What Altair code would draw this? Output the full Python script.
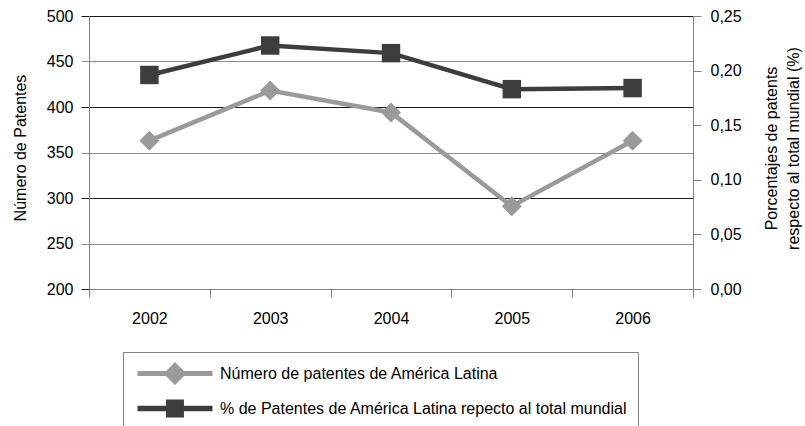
import altair as alt
import pandas as pd

# Años, patentes y participación mundial de América Latina
anios = ["2002", "2003", "2004", "2005", "2006"]
patentes = [363, 418, 394, 291, 363]
porcentaje = [0.196, 0.223, 0.216, 0.183, 0.184]
series = [
    "Número de patentes de América Latina",
    "% de Patentes de América Latina repecto al total mundial",
]
ticks_izq = [200, 250, 300, 350, 400, 450, 500]
ticks_der = [0.0, 0.05, 0.10, 0.15, 0.20, 0.25]

GRIS = "#9a9a9a"
OSCURO = "#3d3d3d"
EJE = "#808080"
FUENTE = "Liberation Sans"

# Símbolos de leyenda: trazo horizontal con el marcador al centro
PATH_ROMBO = "M-3.26,-0.22H3.26V0.22H-3.26Z M0,-1L1,0L0,1L-1,0Z"
PATH_CUADRADO = "M-3.26,-0.24H3.26V0.24H-3.26Z M-0.78,-0.78H0.78V0.78H-0.78Z"

df = pd.DataFrame({"anio": anios, "patentes": patentes, "porcentaje": porcentaje})
df_ley = pd.DataFrame({"serie": series})

x = alt.X(
    "anio:O",
    title=None,
    sort=anios,
    bandPosition=0.5,
    scale=alt.Scale(type="band", paddingInner=0, paddingOuter=0),
    axis=alt.Axis(
        tickBand="extent", tickSize=8, labelPadding=13, labelAngle=0,
        labelFontSize=16, labelFont=FUENTE, labelColor="black",
        domainColor=EJE, tickColor=EJE, grid=False,
    ),
)

color_grid = {
    "condition": {"test": "datum.value % 100 === 0", "value": "#1a1a1a"},
    "value": "#8c8c8c",
}

y_izq = alt.Y(
    "patentes:Q",
    scale=alt.Scale(domain=[200, 500], nice=False, zero=False),
    axis=alt.Axis(
        orient="left", values=ticks_izq,
        title="Número de Patentes", titleX=-64, titleY=131.5, titleAngle=270,
        titleAlign="center", titleBaseline="alphabetic", titleFontSize=16,
        titleFontWeight="normal", titleFont=FUENTE, titleColor="black",
        labelFontSize=16, labelFont=FUENTE, labelColor="black", labelPadding=8,
        tickSize=8, grid=True, gridColor=color_grid, tickColor=color_grid,
        gridWidth=1, domainColor=EJE,
    ),
)

y_der = alt.Y(
    "porcentaje:Q",
    scale=alt.Scale(domain=[0, 0.25], nice=False),
    axis=alt.Axis(
        orient="right", values=ticks_der,
        labelExpr="replace(format(datum.value, '.2f'), '.', ',')",
        title=["Porcentajes de patents", "respecto al total mundial (%)"],
        titleX=83.5, titleY=132, titleAngle=270, titleAlign="center",
        titleBaseline="alphabetic", titleLineHeight=22, titleFontSize=16,
        titleFontWeight="normal", titleFont=FUENTE, titleColor="black",
        labelFontSize=16, labelFont=FUENTE, labelColor="black", labelPadding=9,
        tickSize=8, grid=False, tickColor=EJE, domainColor=EJE,
    ),
)

base = alt.Chart(df)

capa_patentes = alt.layer(
    base.mark_line(color=GRIS, strokeWidth=4.5).encode(x=x, y=y_izq),
    base.mark_point(shape="diamond", filled=True, size=400, color=GRIS, opacity=1).encode(x=x, y=y_izq),
)

capa_porcentaje = alt.layer(
    base.mark_line(color=OSCURO, strokeWidth=4.5).encode(x=x, y=y_der),
    base.mark_point(shape="square", filled=True, size=340, color=OSCURO, opacity=1).encode(x=x, y=y_der),
)

leyenda = alt.Legend(
    title=None, orient="none", legendX=34, legendY=336, padding=10,
    strokeColor=EJE, fillColor="white", symbolSize=529, symbolStrokeWidth=0,
    symbolOffset=30.5, labelOffset=33.5, rowPadding=12, labelFontSize=16,
    labelFont=FUENTE, labelColor="black", labelLimit=600, direction="vertical",
)

capa_leyenda = (
    alt.Chart(df_ley)
    .transform_filter("false")
    .mark_point(filled=True, size=529, opacity=1)
    .encode(
        color=alt.Color("serie:N", scale=alt.Scale(domain=series, range=[GRIS, OSCURO]), legend=leyenda),
        shape=alt.Shape("serie:N", scale=alt.Scale(domain=series, range=[PATH_ROMBO, PATH_CUADRADO]), legend=leyenda),
    )
)

chart = (
    alt.layer(capa_patentes, capa_porcentaje, capa_leyenda)
    .resolve_scale(y="independent")
    .properties(
        width=604,
        height=273,
        autosize=alt.AutoSizeParams(type="none"),
        padding={"left": 89, "top": 16, "right": 112, "bottom": 137},
        background="white",
    )
    .configure_view(strokeWidth=0)
)

chart.save("out.html", embed_options={"renderer": "svg", "actions": False})
